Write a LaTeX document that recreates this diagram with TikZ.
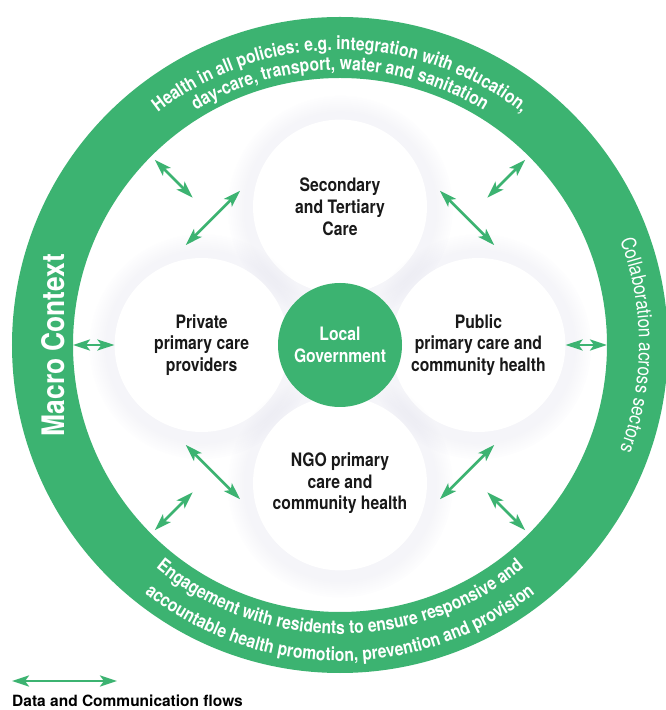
\documentclass[tikz,border=0pt]{standalone}
\usepackage{fontspec}
\usepackage{tikz}
\usetikzlibrary{arrows.meta,calc,decorations.text,positioning,shadows}
\newfontfamily\condfont[FakeStretch=0.85]{TeX Gyre Heros}
\newfontfamily\keyfont{TeX Gyre Heros}
\newcommand\ringfont{\condfont\bfseries\fontsize{18.5pt}{20pt}\selectfont}
\newcommand\sidefont{\condfont\fontsize{20pt}{22pt}\selectfont}
\definecolor{macrogreen}{RGB}{60,179,113}
\definecolor{halo}{RGB}{120,120,175}
\pgfdeclarelayer{back}
\pgfsetlayers{back,main}
\tikzset{
    %Define standard arrow tip
    >={Stealth[length=17pt,width=11pt,inset=4pt]},
    %Define style for the care circles
    carenode/.style={
           circle,
           fill=white,
           minimum size=174pt,
           align=center,
           text=black!90,
           font=\condfont\bfseries\fontsize{18.5pt}{21.7pt}\selectfont,
           circular drop shadow={shadow xshift=0pt, shadow yshift=-1pt,
                  shadow scale=1.3, fill=halo, opacity=0.07}},
    govnode/.style={
           circle,
           fill=macrogreen,
           minimum size=124pt,
           align=center,
           text=white,
           font=\condfont\bfseries\fontsize{18.5pt}{21.7pt}\selectfont},
    ringnode/.style={
           circle,
           draw=macrogreen,
           line width=61pt,
           minimum size=595pt,
           outer sep=-30.5pt},
    % Define arrow style
    flowline/.style={
           <->,
           line width=2.6pt,
           draw=macrogreen},
    ringtext/.style={
           decorate,
           decoration={text along path, text align=center,
                  text color=white, text={#1}}}
}

\begin{document}
\begin{tikzpicture}[x=1pt,y=1pt]
\useasboundingbox (0,0) rectangle (666,710);
\begin{pgfonlayer}{back}
\fill[white] (0,0) rectangle (666,710);
\end{pgfonlayer}
 %nodes
\node[govnode] (gov) at (340,365) {Local\\Government};
\begin{pgfonlayer}{back}
\node[ringnode] (ring) at (gov) {};
\node[carenode, above=-11pt of gov] (sec) {Secondary\\and Tertiary\\Care};
\node[carenode, left=-11pt of gov] (priv) {Private\\primary care\\providers};
\node[carenode, right=-11pt of gov] (pub) {Public\\primary care and\\community health};
\node[carenode, below=-11pt of gov] (ngo) {NGO primary\\care and\\community health};
\end{pgfonlayer}
\node[rotate=90, text=white, font=\condfont\bfseries\fontsize{31pt}{31pt}\selectfont]
    (macro) at ([xshift=-20pt]ring.west) {Macro Context};

 %ring texts
\path[ringtext={|\ringfont|Health in all policies: e.g. integration with education,}]
    ([shift={(160:295)}]ring.center) arc[start angle=160, end angle=20, radius=295];
\path[ringtext={|\ringfont|day-care, transport, water and sanitation}]
    ([shift={(160:275)}]ring.center) arc[start angle=160, end angle=20, radius=275];
\path[ringtext={|\sidefont|Collaboration across sectors}]
    ([shift={(45:299)}]ring.center) arc[start angle=45, end angle=-45, radius=299];
\path[ringtext={|\ringfont|Engagement with residents to ensure responsive and}]
    ([shift={(200:289)}]ring.center) arc[start angle=200, end angle=340, radius=289];
\path[ringtext={|\ringfont|accountable health promotion, prevention and provision}]
    ([shift={(200:316)}]ring.center) arc[start angle=200, end angle=340, radius=316];

 %flows
\path (ring.west) edge[flowline] (priv.west)
      (pub.east) edge[flowline] (ring.east);
\foreach \a in {45,135,225,315}
    \path (ring.\a) edge[flowline, shorten <=5pt] ($(gov)!0.78!(ring.\a)$);
\foreach \p/\i/\q/\j in {sec/171/priv/99, sec/9/pub/81, priv/261/ngo/189, pub/279/ngo/351}
    \path ([shift={(\i:14)}]\p.\i) edge[flowline] ([shift={(\j:14)}]\q.\j);

 %legend
\node[anchor=base west, inner sep=0pt, font=\keyfont\bfseries\fontsize{15.5pt}{18pt}\selectfont]
    (key) at (12,3) {Data and Communication flows};
\coordinate (keyL) at (12,29);
\coordinate (keyR) at (117,29);
\path (keyL) edge[flowline] (keyR);
\end{tikzpicture}
\end{document}
